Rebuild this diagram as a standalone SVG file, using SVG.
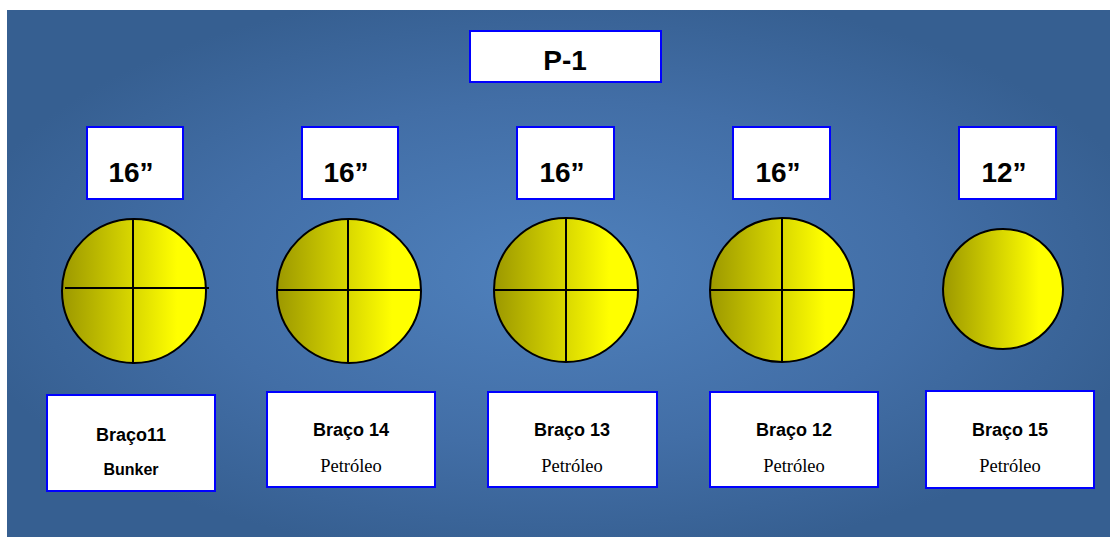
<svg xmlns="http://www.w3.org/2000/svg" width="1110" height="537" viewBox="0 0 1110 537">
  <defs>
    <radialGradient id="bg" cx="0.5" cy="0.5" r="0.55" gradientUnits="objectBoundingBox">
      <stop offset="0" stop-color="#4f81bd"/>
      <stop offset="0.6" stop-color="#426ea6"/>
      <stop offset="1" stop-color="#365f91"/>
    </radialGradient>
    <linearGradient id="yel" x1="0" y1="0" x2="1" y2="0">
      <stop offset="0" stop-color="#9c9800"/>
      <stop offset="0.8" stop-color="#ffff00"/>
      <stop offset="1" stop-color="#ffff00"/>
    </linearGradient>
    <style>
      .box { fill: #ffffff; stroke: #0000ff; stroke-width: 2; }
      .circ { fill: url(#yel); stroke: #000000; stroke-width: 2; }
      .cross { stroke: #000000; stroke-width: 2; fill: none; }
      .big { font-family: "Liberation Sans", Arial, sans-serif; font-weight: bold; font-size: 28px; fill: #000; text-anchor: middle; }
      .lbl { font-family: "Liberation Sans", Arial, sans-serif; font-weight: bold; font-size: 18px; fill: #000; text-anchor: middle; }
      .sub { font-family: "Liberation Sans", Arial, sans-serif; font-weight: bold; font-size: 16px; fill: #000; text-anchor: middle; }
      .ser { font-family: "Liberation Serif", "Times New Roman", serif; font-size: 18.5px; fill: #000; text-anchor: middle; }
    </style>
  </defs>
  <rect x="7" y="10" width="1103" height="527" fill="#365f91"/>
  <rect x="7" y="10" width="1103" height="527" fill="url(#bg)"/>

  <g id="title">
    <rect class="box" x="470" y="31" width="191" height="51"/>
    <text class="big" x="565" y="70">P-1</text>
  </g>

  <g id="size1">
    <rect class="box" x="87" y="127" width="96" height="72"/>
    <text class="big" x="131" y="182">16”</text>
  </g>
  <g id="size2">
    <rect class="box" x="302" y="127" width="96" height="72"/>
    <text class="big" x="346" y="182">16”</text>
  </g>
  <g id="size3">
    <rect class="box" x="517" y="127" width="97" height="72"/>
    <text class="big" x="562" y="182">16”</text>
  </g>
  <g id="size4">
    <rect class="box" x="733" y="127" width="97" height="72"/>
    <text class="big" x="778" y="182">16”</text>
  </g>
  <g id="size5">
    <rect class="box" x="959" y="127" width="97" height="72"/>
    <text class="big" x="1004" y="182">12”</text>
  </g>

  <g id="pipe1">
    <circle class="circ" cx="134" cy="291" r="72"/>
    <line class="cross" x1="65" y1="288" x2="209" y2="288"/>
    <line class="cross" x1="133" y1="219" x2="133" y2="364"/>
  </g>
  <g id="pipe2">
    <circle class="circ" cx="349" cy="291" r="72"/>
    <line class="cross" x1="277" y1="290" x2="421" y2="290"/>
    <line class="cross" x1="348" y1="219" x2="348" y2="363"/>
  </g>
  <g id="pipe3">
    <circle class="circ" cx="566" cy="290" r="72"/>
    <line class="cross" x1="494" y1="290" x2="638" y2="290"/>
    <line class="cross" x1="566" y1="218" x2="566" y2="362"/>
  </g>
  <g id="pipe4">
    <circle class="circ" cx="782" cy="290" r="72"/>
    <line class="cross" x1="710" y1="290" x2="854" y2="290"/>
    <line class="cross" x1="782" y1="218" x2="782" y2="362"/>
  </g>
  <g id="pipe5">
    <circle class="circ" cx="1003" cy="289" r="60"/>
  </g>

  <g id="arm11">
    <rect class="box" x="47" y="395" width="168" height="96"/>
    <text class="lbl" x="131" y="441">Braço11</text>
    <text class="sub" x="131" y="475">Bunker</text>
  </g>
  <g id="arm14">
    <rect class="box" x="267" y="392" width="168" height="95"/>
    <text class="lbl" x="351" y="436">Braço 14</text>
    <text class="ser" x="351" y="472">Petróleo</text>
  </g>
  <g id="arm13">
    <rect class="box" x="488" y="392" width="169" height="95"/>
    <text class="lbl" x="572" y="436">Braço 13</text>
    <text class="ser" x="572" y="472">Petróleo</text>
  </g>
  <g id="arm12">
    <rect class="box" x="710" y="392" width="168" height="95"/>
    <text class="lbl" x="794" y="436">Braço 12</text>
    <text class="ser" x="794" y="472">Petróleo</text>
  </g>
  <g id="arm15">
    <rect class="box" x="926" y="391" width="168" height="97"/>
    <text class="lbl" x="1010" y="436">Braço 15</text>
    <text class="ser" x="1010" y="472">Petróleo</text>
  </g>

  <g id="connectors"/>
</svg>
